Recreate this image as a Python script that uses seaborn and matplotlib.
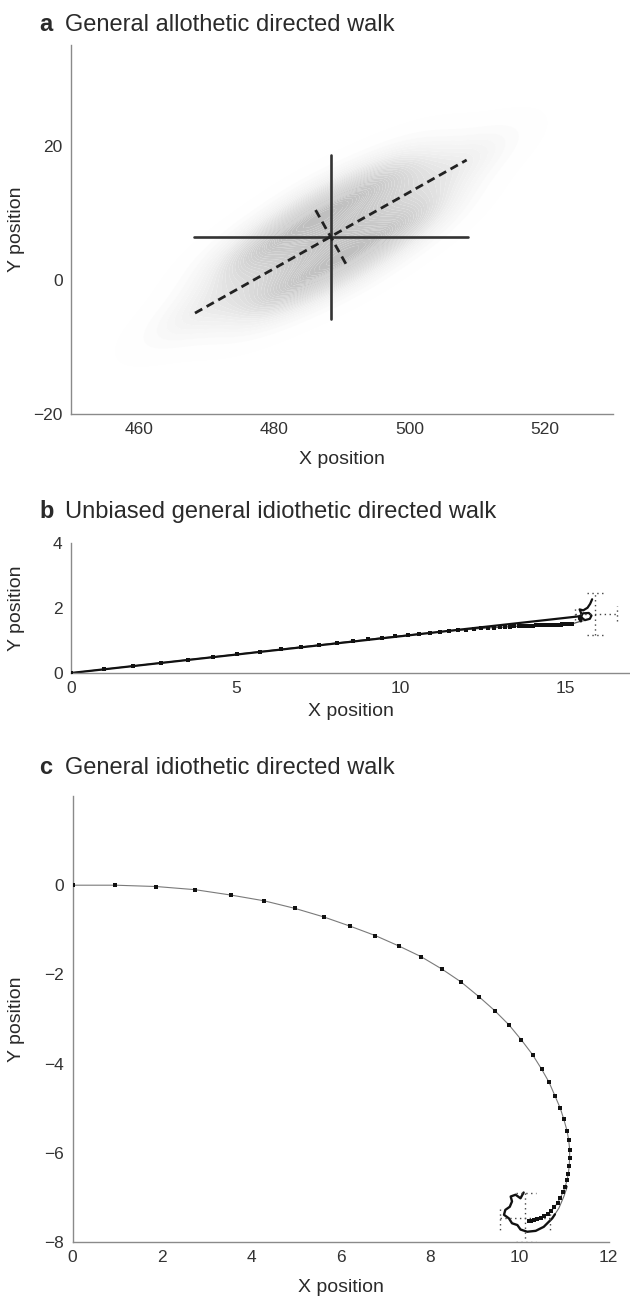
import numpy as np
import pandas as pd
import seaborn as sns
import matplotlib
matplotlib.use("Agg")
import matplotlib.pyplot as plt
from matplotlib.colors import LinearSegmentedColormap

# ---------------- Panel a data ----------------
a_cloud_x = [469.3, 477.4, 475.0, 484.0, 482.3, 480.6, 490.4, 489.1,
             487.7, 486.4, 496.2, 494.5, 492.8, 501.8, 499.4, 507.5,
             491.3, 485.5, 482.1, 477.3, 499.5, 494.7]
a_cloud_y = [-4.5, -2.7, 1.7, -0.2, 2.9, 6.0, 2.9, 5.1,
             7.7, 9.9, 6.8, 9.9, 13.0, 11.1, 15.5, 17.3,
             1.2, 11.6, -2.9, 5.8, 7.0, 15.7]
a_hline_x = [468.2, 508.6]
a_hline_y = [6.4, 6.4]
a_vline_x = [488.4, 488.4]
a_vline_y = [-5.8, 18.6]
a_major_x = [468.3, 508.4]
a_major_y = [-4.96, 17.86]
a_minor_x = [486.1, 490.8]
a_minor_y = [10.4, 1.98]
a_xticks = [460, 480, 500, 520]
a_yticks = [-20, 0, 20]

# ---------------- Panel b data ----------------
b_mean_x = [0, 1.0, 1.88, 2.73, 3.55, 4.32, 5.05, 5.73, 6.37, 6.97, 7.53, 8.06,
            8.55, 9.01, 9.44, 9.84, 10.22, 10.57, 10.9, 11.2, 11.48, 11.75, 12.0,
            12.23, 12.45, 12.65, 12.84, 13.01, 13.17, 13.32, 13.46, 13.59, 13.71,
            13.82, 13.93, 14.03, 14.12, 14.21, 14.29, 14.37, 14.44, 14.51, 14.58,
            14.64, 14.7, 14.76, 14.81, 14.86, 14.91, 14.96, 15.0, 15.04, 15.08,
            15.12, 15.16, 15.2]
b_mean_y = [0, 0.114, 0.214, 0.311, 0.405, 0.492, 0.576, 0.653, 0.726, 0.795,
            0.858, 0.919, 0.975, 1.027, 1.076, 1.122, 1.16, 1.2, 1.23, 1.26, 1.29,
            1.31, 1.33, 1.35, 1.365, 1.38, 1.39, 1.40, 1.41, 1.42, 1.43, 1.435,
            1.44, 1.445, 1.45, 1.455, 1.46, 1.462, 1.465, 1.468, 1.47, 1.473,
            1.476, 1.478, 1.48, 1.482, 1.484, 1.486, 1.488, 1.49, 1.492, 1.494,
            1.496, 1.498, 1.5, 1.502]
b_tail_x = [15.2, 15.42, 15.55]
b_tail_y = [1.502, 1.57, 1.6]
b_walk_x = [0, 15.45, 15.6, 15.75, 15.8, 15.72, 15.55, 15.45, 15.42, 15.48,
            15.5, 15.44, 15.55, 15.68, 15.76, 15.82]
b_walk_y = [0, 1.74, 1.62, 1.66, 1.76, 1.84, 1.83, 1.75, 1.66, 1.58,
            1.80, 1.95, 1.92, 2.0, 2.12, 2.26]
b_err = [  # (x0, x1, y0, y1) dotted error-cross segments
    (15.29, 16.56, 1.82, 1.82),
    (15.92, 15.92, 1.16, 2.46),
    (15.66, 16.18, 2.46, 2.46),
    (15.66, 16.18, 1.16, 1.16),
    (15.29, 15.29, 1.62, 2.05),
    (16.56, 16.56, 1.60, 2.04),
]
b_xticks = [0, 5, 10, 15]
b_yticks = [0, 2, 4]

# ---------------- Panel c data ----------------
c_mean_x = [0, 0.96, 1.88, 2.74, 3.54, 4.29, 4.98, 5.62, 6.22, 6.78, 7.3, 7.8,
            8.27, 8.7, 9.1, 9.45, 9.77, 10.05, 10.3, 10.5, 10.67, 10.8, 10.92,
            11.0, 11.07, 11.11, 11.13, 11.13, 11.12, 11.1, 11.07, 11.03, 10.98,
            10.92, 10.86, 10.79, 10.72, 10.64, 10.56, 10.48, 10.4, 10.33, 10.27,
            10.22]
c_mean_y = [0, 0, -0.03, -0.10, -0.22, -0.35, -0.52, -0.71, -0.92, -1.13,
            -1.36, -1.6, -1.88, -2.17, -2.5, -2.81, -3.13, -3.47, -3.8, -4.12,
            -4.42, -4.72, -5.0, -5.25, -5.5, -5.72, -5.93, -6.12, -6.3, -6.47,
            -6.62, -6.76, -6.89, -7.01, -7.12, -7.22, -7.3, -7.37, -7.42, -7.46,
            -7.49, -7.51, -7.52, -7.53]
c_outer_x = [11.08, 11.0, 10.89, 10.8]
c_outer_y = [-6.75, -6.98, -7.24, -7.38]
c_walk_x = [10.8, 10.74, 10.55, 10.37, 10.18, 10.03, 9.96, 9.84, 9.77, 9.66,
            9.69, 9.79, 9.84, 9.81, 9.92, 10.03, 10.10]
c_walk_y = [-7.38, -7.47, -7.66, -7.75, -7.77, -7.72, -7.62, -7.58, -7.47,
            -7.39, -7.28, -7.21, -7.09, -6.98, -6.94, -7.02, -6.89]
c_err = [
    (9.58, 10.70, -7.47, -7.47),
    (10.14, 10.14, -6.9, -8.0),
    (9.93, 10.38, -6.9, -6.9),
    (9.93, 10.38, -8.0, -8.0),
    (9.58, 9.58, -7.25, -7.72),
    (10.70, 10.70, -7.25, -7.72),
]
c_xticks = [0, 2, 4, 6, 8, 10, 12]
c_yticks = [-8, -6, -4, -2, 0]

# ---------------- Styling ----------------
sns.set_style("white")
plt.rcParams["font.family"] = ["Liberation Sans", "DejaVu Sans"]
plt.rcParams["axes.unicode_minus"] = True

W, H = 630, 1305
fig = plt.figure(figsize=(W / 100, H / 100), dpi=100)

SPINE = "#8a8a8a"
TXT = "#2a2a2a"
TICKTXT = "#333333"


def px_axes(l, t, r, b):
    return fig.add_axes([l / W, 1 - b / H, (r - l) / W, (b - t) / H])


def style(ax, xt, yt, xlab_px, ylab_right_px, l, t, r, b):
    for s in ["top", "right"]:
        ax.spines[s].set_visible(False)
    for s in ["left", "bottom"]:
        ax.spines[s].set_color(SPINE)
        ax.spines[s].set_linewidth(1.0)
    ax.set_xticks(xt)
    ax.set_yticks(yt)
    ax.tick_params(direction="in", length=4, width=0.8, color=SPINE,
                   labelcolor=TICKTXT, labelsize=12.5, pad=6)
    ax.set_xlabel("X position", fontsize=14, color=TXT)
    ax.set_ylabel("Y position", fontsize=14, color=TXT)
    ax.xaxis.set_label_coords(0.5, -xlab_px / (b - t))
    ax.yaxis.set_label_coords((ylab_right_px - l) / (r - l), 0.5)
    ax.grid(False)


def title(letter, text, y_base):
    fig.text(39 / W, 1 - y_base / H, letter, fontsize=17, fontweight="bold",
             color=TXT, va="baseline", ha="left")
    fig.text(65 / W, 1 - y_base / H, text, fontsize=17, color=TXT,
             va="baseline", ha="left")


def line(ax, x, y, **kw):
    sns.lineplot(x=x, y=y, sort=False, estimator=None, ax=ax, legend=False, **kw)


# ---------------- Panel a ----------------
la, ta, ra, ba = 71, 45, 613, 414
axa = px_axes(la, ta, ra, ba)
cloud_cmap = LinearSegmentedColormap.from_list(
    "cloud", ["#ffffff", "#efefef", "#d6d6d6", "#bfbfbf"])
sns.kdeplot(x=a_cloud_x, y=a_cloud_y, fill=True, levels=40, thresh=0.006,
            cmap=cloud_cmap, bw_adjust=0.95, ax=axa, gridsize=240, cut=10,
            antialiased=True)
line(axa, a_hline_x, a_hline_y, color="#333333", linewidth=1.9)
line(axa, a_vline_x, a_vline_y, color="#333333", linewidth=1.9)
line(axa, a_major_x, a_major_y, color="#222222", linewidth=2.0,
     linestyle=(0, (3.0, 1.8)))
line(axa, a_minor_x, a_minor_y, color="#222222", linewidth=2.0,
     linestyle=(0, (3.0, 1.8)))
axa.set_xlim(450, 530)
axa.set_ylim(-20, 35)
style(axa, a_xticks, a_yticks, 37, 25, la, ta, ra, ba)
title("a", "General allothetic directed walk", 31)

# ---------------- Panel b ----------------
lb, tb, rb, bb = 71, 542.5, 631, 673
axb = px_axes(lb, tb, rb, bb)
line(axb, b_mean_x + b_tail_x, b_mean_y + b_tail_y, color="#555555", linewidth=0.9)
line(axb, b_walk_x, b_walk_y, color="#111111", linewidth=1.6)
sns.scatterplot(x=b_mean_x, y=b_mean_y, marker="s", s=5, color="#111111",
                linewidth=0, ax=axb, legend=False, zorder=3)
for (x0, x1, y0, y1) in b_err:
    line(axb, [x0, x1], [y0, y1], color="#444444", linewidth=1.0,
         linestyle=(0, (1, 2.5)))
axb.set_xlim(0, 17)
axb.set_ylim(0, 4)
style(axb, b_xticks, b_yticks, 30, 25, lb, tb, rb, bb)
title("b", "Unbiased general idiothetic directed walk", 518)

# ---------------- Panel c ----------------
lc, tc, rc, bc = 72.5, 796, 608.5, 1242
axc = px_axes(lc, tc, rc, bc)
line(axc, c_mean_x, c_mean_y, color="#7a7a7a", linewidth=0.8)
line(axc, c_outer_x, c_outer_y, color="#6a6a6a", linewidth=0.8)
line(axc, c_walk_x, c_walk_y, color="#111111", linewidth=1.7)
sns.scatterplot(x=c_mean_x, y=c_mean_y, marker="s", s=5, color="#111111",
                linewidth=0, ax=axc, legend=False, zorder=3)
for (x0, x1, y0, y1) in c_err:
    line(axc, [x0, x1], [y0, y1], color="#444444", linewidth=1.0,
         linestyle=(0, (1, 2.5)))
axc.set_xlim(0, 12)
axc.set_ylim(-8, 2)
style(axc, c_xticks, c_yticks, 37, 25, lc, tc, rc, bc)
title("c", "General idiothetic directed walk", 774)

fig.savefig("out.png", dpi=100, facecolor="white")
